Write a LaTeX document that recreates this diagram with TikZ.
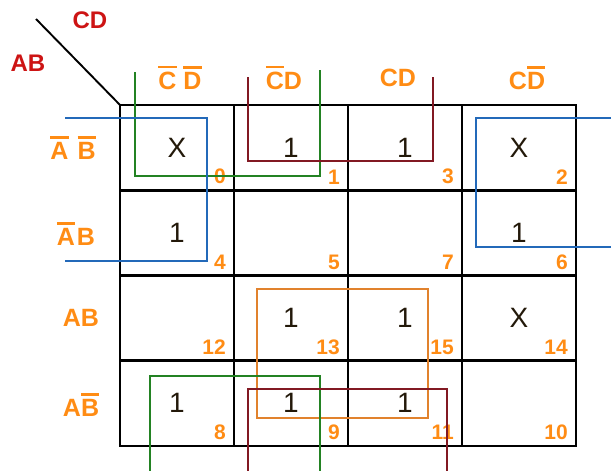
\documentclass[tikz,border=0pt]{standalone}
\usepackage{fontspec}
\setmainfont{Liberation Sans}
\usepackage{tikz}
\usetikzlibrary{positioning}

\definecolor{kmorange}{RGB}{255,140,20}
\definecolor{kmred}{RGB}{205,20,20}
\definecolor{kmgreen}{RGB}{35,130,35}
\definecolor{kmmaroon}{RGB}{130,25,35}
\definecolor{kmblue}{RGB}{35,105,185}
\definecolor{kmloop}{RGB}{225,130,45}
\definecolor{kmink}{RGB}{35,25,10}

% letter with a bar over it
\newcommand{\nbar}[1]{\setbox0=\hbox{#1}\leavevmode\rlap{\raisebox{\dimexpr\ht0+4pt\relax}{\rule{\wd0}{2.6pt}}}\box0}

\begin{document}
\begin{tikzpicture}[x=1pt, y=-1pt, every node/.style={align=center}]
\tikzset{
  cell/.style={draw, line width=2.6pt, minimum width=114pt, minimum height=85.25pt,
    inner sep=0pt, outer sep=0pt, text=kmink, font=\fontsize{28}{30}\selectfont},
  num/.style={anchor=south east, inner sep=0pt, xshift=-8pt, yshift=6pt,
    text=kmorange, font=\fontsize{21}{23}\selectfont\bfseries},
  head/.style={text=kmorange, font=\fontsize{25}{27}\selectfont\bfseries},
  var/.style={text=kmred, font=\fontsize{24}{26}\selectfont\bfseries},
  loop/.style={line width=1.9pt}
}
\fill[white] (0,0) rectangle (611,471);
\useasboundingbox (0,0) rectangle (611,471);

% cells, row by row
\node[cell] (m0) at (177,147.6) {X};
\node[cell, right=0pt of m0, label={[num]south east:1}] (m1) {1};
\node[cell, right=0pt of m1, label={[num]south east:3}] (m3) {1};
\node[cell, right=0pt of m3, label={[num]south east:2}] (m2) {X};
\node[cell, below=0pt of m0, label={[num]south east:4}] (m4) {1};
\node[cell, right=0pt of m4, label={[num]south east:5}] (m5) {};
\node[cell, right=0pt of m5, label={[num]south east:7}] (m7) {};
\node[cell, right=0pt of m7, label={[num]south east:6}] (m6) {1};
\node[cell, below=0pt of m4, label={[num]south east:12}] (m12) {};
\node[cell, right=0pt of m12, label={[num]south east:13}] (m13) {1};
\node[cell, right=0pt of m13, label={[num]south east:15}] (m15) {1};
\node[cell, right=0pt of m15, label={[num]south east:14}] (m14) {X};
\node[cell, below=0pt of m12, label={[num]south east:8}] (m8) {1};
\node[cell, right=0pt of m8, label={[num]south east:9}] (m9) {1};
\node[cell, right=0pt of m9, label={[num]south east:11}] (m11) {1};
\node[cell, right=0pt of m11, label={[num]south east:10}] (m10) {};
\node[num] at (m0.south east) {0};

% corner
\coordinate (corner) at (36,19);
\draw[line width=1.9pt] (corner) -- (m0.north west);
\node[var] (cdvar) at (90,20) {CD};
\node[var] (abvar) at (28,63) {AB};

% column and row heads
\node[head] (h0) at (180,78) {\nbar{C}~\nbar{D}};
\node[head] (h1) at (284,78) {\nbar{C}D};
\node[head] (h3) at (398,78) {CD};
\node[head] (h2) at (527,78) {C\nbar{D}};
\node[head] (r0) at (73,148) {\nbar{A}\hspace{9pt}\nbar{B}};
\node[head] (r1) at (76,234) {\nbar{A}\hspace{2pt}B};
\node[head] (r3) at (81,318) {AB};
\node[head] (r2) at (81,405) {A\nbar{B}};

% groups
\draw[loop, kmgreen] (135,72) -- (135,176) -- (320,176) -- (320,70);
\draw[loop, kmmaroon] (248,77) -- (248,161) -- (433,161) -- (433,77);
\draw[loop, kmblue] (65,118) -- (207,118) -- (207,261) -- (65,261);
\draw[loop, kmblue] (611,118) -- (476,118) -- (476,247) -- (611,247);
\draw[loop, kmloop] (257,289) rectangle (428,418);
\draw[loop, kmgreen] (150,471) -- (150,376) -- (320,376) -- (320,471);
\draw[loop, kmmaroon] (248,471) -- (248,389) -- (447,389) -- (447,471);
\end{tikzpicture}
\end{document}
